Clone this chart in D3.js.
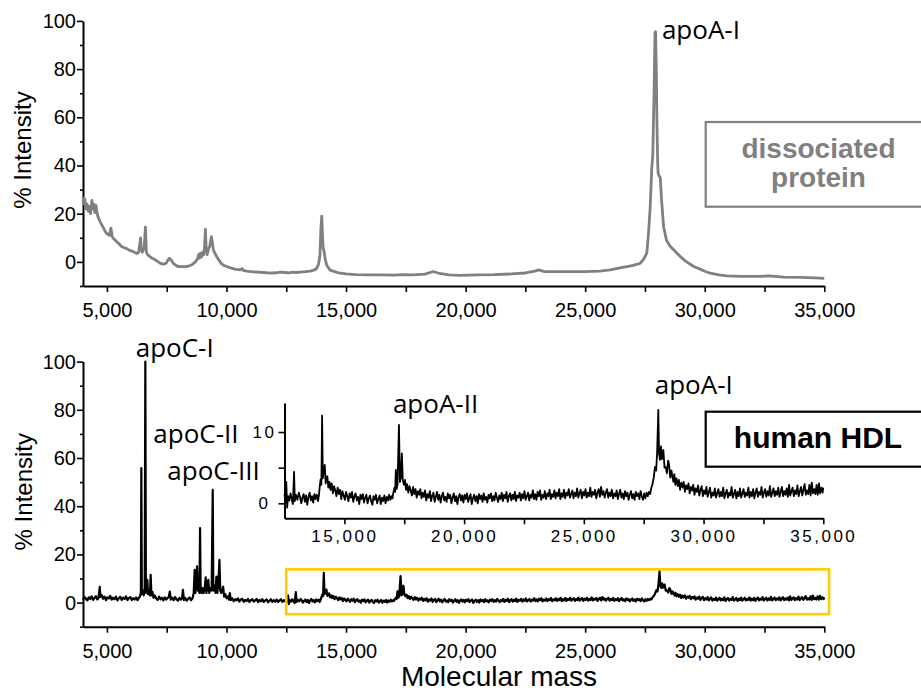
<!DOCTYPE html>
<html>
<head>
<meta charset="utf-8">
<script src="https://cdn.jsdelivr.net/npm/d3@7"></script>
<style>
  body { margin: 0; background: #fff; }
  svg { display: block; font-family: "Liberation Sans", Arial, sans-serif; }
  .peak-label { font-family: "Open Sans", sans-serif; font-size: 26px; fill: #000; }
</style>
</head>
<body>
<div id="chart"></div>
<script>
// Dissociated protein spectrum: [molecular mass, % intensity]
const dissociated = [
  [4000,27],[4040,24],[4080,26],[4120,22],[4170,24],[4220,21],[4270,23],[4320,20],[4370,25.5],[4410,22],
  [4450,24],[4500,20.5],[4540,23.5],[4580,21],[4620,19],[4700,17],[4780,15.5],[4860,14],[4940,12.5],[5020,11.5],
  [5100,11],[5170,14],[5220,10.5],[5300,9.5],[5400,8.5],[5500,7.5],[5600,6.5],[5700,6],[5830,5.5],[5950,4.8],
  [6050,4.5],[6150,4],[6250,3.5],[6330,4],[6380,8],[6410,10],[6440,5],[6480,4],[6560,6],[6610,14.4],
  [6650,4],[6700,3],[6800,2.2],[6900,1.5],[7000,1],[7100,0.3],[7220,-0.5],[7350,-1],[7480,-0.5],[7570,1],
  [7620,1.5],[7700,0.5],[7800,-0.8],[7950,-1.8],[8100,-2],[8250,-2],[8400,-1.8],[8550,-1.2],[8700,0],[8800,1.5],
  [8830,3],[8860,1.5],[8900,3.5],[8950,2],[9000,4],[9050,3],[9090,7],[9117,13.5],[9150,6],[9190,3],
  [9240,5],[9300,6.5],[9340,9],[9370,10.5],[9410,8],[9450,5],[9520,3.5],[9600,2],[9700,0.5],[9800,-0.8],
  [9900,-1.5],[10010,-1.9],[10200,-2.6],[10350,-3],[10570,-3.3],[10650,-2.8],[10700,-3.5],[10850,-3.8],[11110,-4.1],[11400,-4.3],
  [11680,-4.5],[11900,-4.6],[12100,-4.5],[12240,-4.2],[12450,-4.4],[12600,-4.6],[12790,-4.2],[12900,-4.4],[13100,-4.2],[13300,-4],
  [13500,-3.8],[13620,-3.5],[13750,-3],[13850,-1],[13910,3],[13950,14],[13985,19],[14010,12],[14040,6],[14080,4.5],
  [14130,1],[14200,-1.5],[14330,-3.4],[14460,-3.8],[14700,-4.6],[15000,-5],[15400,-5.3],[15870,-5.4],[16430,-5.4],[17000,-5.5],
  [17400,-5.3],[17800,-5.4],[18300,-5.1],[18650,-4],[18900,-4.8],[19300,-5.4],[19770,-5.6],[20500,-5.4],[21200,-5.3],[21900,-5],
  [22500,-4.6],[22900,-3.8],[23050,-3.3],[23300,-4],[23960,-4],[25000,-4],[25600,-3.8],[26050,-3.3],[26500,-2.4],[26750,-2],
  [27000,-1.4],[27300,-0.6],[27450,1.2],[27580,3.7],[27650,12],[27720,23],[27780,38],[27830,45],[27880,70],[27920,95],
  [27945,95.5],[27975,80],[28000,59],[28030,42],[28050,37],[28100,35.5],[28140,35],[28200,25],[28280,14.6],[28400,9],
  [28560,6.4],[28700,5],[28840,3.6],[29000,2],[29200,0.3],[29540,-1.9],[29800,-3],[30030,-4],[30230,-4.7],[30600,-5.4],
  [30930,-5.8],[31500,-6],[32330,-6],[32700,-5.8],[33300,-6.3],[34000,-6.4],[34600,-6.6],[35000,-6.8]
];

// Human HDL spectrum: [molecular mass, % intensity] (the inset shows the same data)
const hdl = [
  [4000,1.2],[4060,2.4],[4120,1.6],[4180,0.9],[4240,2.2],[4300,1.5],[4360,2.6],[4420,1.1],[4480,1.9],[4540,2.7],
  [4600,1.3],[4650,2.0],[4700,6.5],[4730,2.4],[4780,3.2],[4840,1.6],[4900,2.5],[4960,1.0],[5020,2.2],[5080,1.7],
  [5140,2.8],[5200,1.2],[5260,2.0],[5320,1.4],[5380,2.5],[5440,0.9],[5500,1.8],[5560,2.4],[5620,1.1],[5680,2.0],
  [5740,1.5],[5800,2.6],[5860,1.0],[5920,1.9],[5980,2.3],[6040,1.1],[6100,1.8],[6160,1.3],[6220,2.2],[6280,1.0],
  [6340,2.0],[6380,2.5],[6420,4],[6440,55.8],[6460,3.5],[6500,5],[6540,3],[6580,6],[6607,100],[6630,4],
  [6660,6],[6690,9.4],[6720,3.5],[6760,5],[6800,3],[6830,11.5],[6860,3],[6900,4.5],[6950,2],[7000,3],
  [7060,1.8],[7120,1.1],[7180,2.5],[7240,1.4],[7300,2.0],[7360,0.9],[7420,2.2],[7480,1.3],[7540,1.9],[7590,2.4],
  [7630,4.6],[7670,1.2],[7730,2.0],[7790,1.0],[7850,2.3],[7910,1.4],[7970,0.8],[8030,2.0],[8090,1.2],[8140,1.8],
  [8180,5.3],[8220,1.0],[8280,1.9],[8340,0.8],[8400,1.6],[8460,2.1],[8520,1.0],[8580,1.8],
  [8630,4],[8670,13.6],[8700,4],[8740,8],[8770,15],[8800,5],[8840,7],[8870,4],[8895,30.9],[8920,5],
  [8965,3.9],[9000,6],[9050,4],[9100,7],[9130,10.5],[9160,4],[9200,6],[9240,9.4],[9280,4],[9330,6],
  [9380,5],[9425,46.8],[9450,5],[9500,7],[9540,4],[9580,10.8],[9620,4],[9660,8],[9705,17.7],[9740,5],
  [9780,4],[9820,5],[9860,6.6],[9900,2.5],[9950,3.5],[10000,1.8],
  [10060,2.6],[10100,1.2],[10140,3.9],[10180,1.0],[10240,1.8],[10300,0.6],[10360,1.4],[10420,0.9],[10480,1.7],[10540,0.4],
  [10600,1.2],[10660,1.6],[10720,0.3],[10780,1.1],[10840,0.6],[10900,1.5],[10960,0.2],[11020,1.0],[11080,1.4],[11140,0.4],
  [11200,0.9],[11260,1.5],[11320,0.2],[11380,1.1],[11440,0.5],[11500,1.4],[11560,0.3],[11620,0.9],[11680,1.3],[11740,0.1],
  [11800,0.8],[11860,1.4],[11920,0.3],[11980,1.0],[12040,0.4],[12100,1.3],[12160,0.2],[12220,0.9],[12280,1.4],[12340,0.3],
  [12400,1.0],[12450,0.5],
  [12500,1.3],[12540,0.2],[12575,3.0],[12610,-0.6],[12650,1.0],[12700,0.4],[12750,1.4],[12800,0.6],[12850,-0.1],[12900,4.4],
  [12930,0.3],[12980,1.2],[13040,0.5],[13100,1.5],[13150,0.9],[13200,0.0],[13250,0.8],[13300,1.3],[13350,0.2],[13400,1.1],
  [13450,-0.2],[13500,0.9],[13550,1.5],[13600,0.4],[13650,1.0],[13700,0.1],[13750,1.3],[13800,0.6],[13850,1.2],[13900,0.3],
  [13940,1.2],[13970,2.3],[14010,3.4],[14040,2.6],[14070,12.3],[14100,3.5],[14140,4.5],[14180,5.4],[14220,2.8],[14260,3.6],
  [14290,3.8],[14330,2.2],[14380,3.0],[14420,1.9],[14470,2.8],[14520,1.4],[14570,2.4],[14620,1.8],[14670,1.0],[14720,2.2],
  [14770,1.3],[14820,1.9],[14870,0.6],[14920,1.7],[14970,1.1],[15020,0.5],[15070,1.6],[15120,1.0],[15170,0.3],[15220,1.4],
  [15270,0.8],[15320,1.6],[15370,0.2],[15420,1.0],[15470,1.4],[15520,0.4],[15570,0.9],[15620,-0.1],[15670,1.2],[15720,0.6],
  [15770,1.3],[15820,0.1],[15870,0.8],[15920,1.2],[15970,0.0],[16020,0.7],[16070,1.1],[16120,0.3],[16170,-0.2],[16220,1.0],
  [16270,0.5],[16320,1.2],[16370,0.0],[16420,0.6],[16470,1.1],[16520,-0.1],[16570,0.8],[16620,0.3],[16670,1.1],[16720,0.0],
  [16770,0.9],[16820,0.4],[16870,1.2],[16920,0.5],[16970,1.0],[17010,0.7],[17040,1.4],[17090,2.2],[17120,1.6],[17150,4.7],
  [17180,2.0],[17220,2.6],[17280,11.0],[17320,3.0],[17360,3.6],[17400,7.0],[17440,3.2],[17490,2.6],[17530,3.3],[17580,1.9],
  [17620,2.7],[17670,1.5],[17720,2.4],[17770,1.8],[17820,1.1],[17870,2.3],[17920,1.3],[17970,2.0],[18020,0.8],[18070,1.7],
  [18120,1.2],[18170,2.0],[18220,0.7],[18270,1.5],[18320,0.9],[18370,1.8],[18420,0.4],[18470,1.3],[18520,0.8],[18570,1.7],
  [18620,0.3],[18670,1.1],[18720,1.5],[18770,0.2],[18820,0.9],[18870,1.6],[18920,0.5],[18970,1.2],[19020,0.1],[19070,1.0],
  [19120,1.5],[19170,0.4],[19220,0.9],[19270,0.2],[19320,1.4],[19370,0.7],[19420,1.2],[19470,0.0],[19520,0.8],[19570,1.4],
  [19620,0.3],[19670,1.0],[19720,-0.1],[19770,0.9],[19820,1.3],[19870,0.4],[19920,1.1],[19970,0.1],[20020,1.2],[20070,0.6],
  [20120,1.4],[20170,0.2],[20220,0.8],[20270,1.3],[20320,-0.1],[20370,0.7],[20420,1.2],[20470,0.3],[20520,1.0],[20570,0.0],
  [20620,1.3],[20670,0.6],[20720,1.1],[20770,0.2],[20820,1.4],[20870,0.5],[20920,0.9],[20970,0.1],[21020,1.2],[21070,0.7],
  [21120,1.4],[21170,0.3],[21220,1.0],[21270,0.4],[21320,1.5],[21370,0.8],[21420,0.2],[21470,1.1],[21520,0.6],[21570,1.5],
  [21620,0.3],[21670,1.2],[21720,0.7],[21770,1.6],[21820,0.2],[21870,1.0],[21920,1.4],[21970,0.4],[22020,1.2],[22070,0.6],
  [22120,1.6],[22170,0.3],[22220,1.1],[22270,0.8],[22320,1.5],[22370,0.4],[22420,1.3],[22470,0.7],[22520,1.7],[22570,0.5],
  [22620,1.0],[22670,1.5],[22720,0.4],[22770,1.2],[22820,0.8],[22870,1.8],[22920,0.6],[22970,1.3],[23020,0.5],[23070,1.6],
  [23120,1.0],[23170,1.8],[23220,0.5],[23270,1.2],[23320,0.8],[23370,1.7],[23420,0.6],[23470,1.4],[23520,1.0],[23570,1.9],
  [23620,0.6],[23670,1.3],[23720,0.9],[23770,1.8],[23820,0.7],[23870,1.5],[23920,1.0],[23970,2.0],[24020,0.6],[24070,1.4],
  [24120,0.9],[24170,1.9],[24220,0.7],[24270,1.5],[24320,1.1],[24370,2.0],[24420,0.8],[24470,1.3],[24520,1.8],[24570,0.7],
  [24620,1.5],[24670,1.0],[24720,2.1],[24770,0.8],[24820,1.4],[24870,1.9],[24920,0.7],[24970,1.6],[25020,1.1],[25070,2.0],
  [25120,0.8],[25170,1.5],[25220,1.0],[25270,2.2],[25320,0.9],[25370,1.6],[25420,1.2],[25470,1.9],[25520,0.7],[25570,1.5],
  [25620,2.0],[25670,0.9],[25720,2.3],[25770,1.2],[25820,1.7],[25870,0.8],[25920,1.5],[25970,2.0],[26020,0.8],[26070,1.5],
  [26120,1.0],[26170,1.9],[26220,0.7],[26270,1.4],[26320,1.0],[26370,1.8],[26420,0.6],[26470,1.3],[26520,1.9],[26570,0.8],
  [26620,1.4],[26670,0.6],[26720,1.7],[26770,1.0],[26820,1.5],[26870,0.5],[26920,1.2],[26970,1.7],[27020,0.7],[27070,1.3],
  [27120,0.5],[27170,1.6],[27220,1.0],[27270,1.4],[27320,0.6],[27370,1.7],[27420,1.0],[27470,0.5],[27520,1.4],[27570,0.7],
  [27620,1.5],[27670,1.0],[27720,1.6],[27770,1.3],[27820,2.2],[27860,2.6],[27920,3.6],[27970,5.1],[28020,4.6],[28060,7.0],
  [28110,13.1],[28140,7.0],[28180,6.1],[28220,8.0],[28260,6.2],[28320,7.5],[28370,5.0],[28420,5.1],[28470,4.2],[28520,6.0],
  [28560,5.4],[28610,3.6],[28660,4.6],[28700,3.7],[28740,3.0],[28780,4.1],[28820,2.6],[28870,3.5],[28920,2.4],[28970,3.3],
  [29020,1.9],[29070,2.9],[29120,2.2],[29170,3.0],[29220,1.6],[29270,2.5],[29320,2.0],[29370,2.8],[29420,1.4],[29470,2.3],
  [29520,1.8],[29570,2.6],[29620,1.2],[29670,2.1],[29720,1.6],[29770,2.5],[29820,1.1],[29870,1.9],[29920,2.4],[29970,1.0],
  [30020,1.8],[30070,1.3],[30120,2.3],[30170,0.9],[30220,1.6],[30270,2.2],[30320,0.8],[30370,1.5],[30420,1.1],[30470,2.1],
  [30520,0.8],[30570,1.4],[30620,2.0],[30670,0.9],[30720,1.6],[30770,1.0],[30820,2.2],[30870,0.7],[30920,1.4],[30970,1.9],
  [31020,0.8],[31070,1.5],[31120,1.1],[31170,2.3],[31220,0.8],[31270,1.3],[31320,1.9],[31370,0.7],[31420,1.6],[31470,1.0],
  [31520,2.1],[31570,0.8],[31620,1.4],[31670,2.0],[31720,0.9],[31770,1.5],[31820,1.1],[31870,2.2],[31920,0.8],[31970,1.6],
  [32020,1.0],[32070,2.0],[32120,0.7],[32170,1.5],[32220,2.1],[32270,0.9],[32320,1.6],[32370,1.2],[32420,2.3],[32470,0.8],
  [32520,1.5],[32570,2.0],[32620,0.9],[32670,1.7],[32720,1.1],[32770,2.4],[32820,0.9],[32870,1.5],[32920,2.1],[32970,1.0],
  [33020,1.7],[33070,1.2],[33120,2.2],[33170,0.9],[33220,1.6],[33270,2.3],[33320,1.0],[33370,1.7],[33420,1.2],[33470,2.1],
  [33520,0.9],[33570,2.6],[33620,1.1],[33670,1.7],[33720,2.2],[33770,1.0],[33820,1.8],[33870,1.3],[33920,2.5],[33970,1.0],
  [34020,1.7],[34070,2.3],[34120,1.1],[34170,1.9],[34220,2.7],[34270,1.2],[34320,1.8],[34370,1.3],[34420,2.6],[34470,1.1],
  [34520,2.9],[34570,1.4],[34620,2.0],[34670,1.3],[34720,2.6],[34770,1.2],[34820,2.8],[34870,1.4],[34920,2.2],[34970,1.5],
  [35000,2.2]
];

// Tick values
const massTicks = [5000, 10000, 15000, 20000, 25000, 30000, 35000];
const massMinorTicks = [7500, 12500, 17500, 22500, 27500, 32500];
const intensityTicks = [0, 20, 40, 60, 80, 100];
const intensityMinorTicks = [-10, 10, 30, 50, 70, 90];
const insetMassTicks = [15000, 20000, 25000, 30000, 35000];
const insetMassMinorTicks = [17500, 22500, 27500, 32500];
const insetIntensityTicks = [0, 10];
const insetIntensityMinorTicks = [5];

// Peak labels: [text, mass, intensity] in the data units of their panel
const topLabels = [['apoA-I', 28210, 92.4]];
const bottomLabels = [['apoC-I', 6205, 102.1], ['apoC-II', 6941, 66.1], ['apoC-III', 7527, 50.9]];
const insetLabels = [['apoA-II', 17027, 12.6], ['apoA-I', 27960, 15.3]];

// Region of the HDL spectrum enlarged in the inset
const zoomRegion = { mass: [12500, 35200], intensity: [-4.8, 13.8] };

const svg = d3.select('#chart')
  .append('svg')
  .attr('width', 921)
  .attr('height', 691)
  .style('background-color', 'white');

// Scales
const x = d3.scaleLinear().domain([4000, 35000]).range([83, 824.3]);
const yTop = d3.scaleLinear().domain([-10, 100]).range([286, 20.9]);
const yBot = d3.scaleLinear().domain([-10, 100]).range([626.7, 361.6]);
const xIn = d3.scaleLinear().domain([12500, 35000]).range([284.5, 823.3]);
const yIn = d3.scaleLinear().domain([-2.1, 14.07]).range([518.3, 403]);

// Draw a bottom + left axis pair with major and minor ticks
function drawAxes(xs, ys, o) {
  const y0 = ys.range()[0];
  const x0 = xs.range()[0];

  const gx = svg.append('g').attr('transform', `translate(0,${y0})`);
  gx.call(d3.axisBottom(xs).tickValues(o.xMajor).tickSize(6).tickSizeOuter(0)
    .tickPadding(o.xPad).tickFormat(d3.format(',')));
  gx.append('g').call(d3.axisBottom(xs).tickValues(o.xMinor).tickSize(6).tickSizeOuter(0).tickFormat(''))
    .select('.domain').remove();

  const gy = svg.append('g').attr('transform', `translate(${x0},0)`);
  gy.call(d3.axisLeft(ys).tickValues(o.yMajor).tickSize(6).tickSizeOuter(0)
    .tickPadding(o.yPad).tickFormat(d3.format('d')));
  gy.append('g').call(d3.axisLeft(ys).tickValues(o.yMinor).tickSize(3).tickSizeOuter(0).tickFormat(''))
    .select('.domain').remove();

  [gx, gy].forEach((g) => {
    g.selectAll('.domain').attr('stroke', '#000').attr('stroke-width', 2);
    g.selectAll('.tick line').attr('stroke', '#000').attr('stroke-width', 1.6);
    g.selectAll('.tick text')
      .attr('fill', '#000')
      .style('font-family', '"Liberation Sans", Arial, sans-serif')
      .style('font-size', o.fontSize + 'px')
      .style('letter-spacing', o.spacing + 'px');
  });
  return { gx, gy };
}

const line = (xs, ys) => d3.line().x((d) => xs(d[0])).y((d) => ys(d[1]));

// ---- Top panel: dissociated protein
drawAxes(x, yTop, {
  xMajor: massTicks, xMinor: massMinorTicks, yMajor: intensityTicks, yMinor: intensityMinorTicks,
  xPad: 11, yPad: 1, fontSize: 20, spacing: 0,
});

svg.append('path')
  .datum(dissociated)
  .attr('fill', 'none')
  .attr('stroke', '#808080')
  .attr('stroke-width', 2.8)
  .attr('stroke-linejoin', 'round')
  .attr('d', line(x, yTop));

svg.selectAll('.top-label')
  .data(topLabels)
  .enter()
  .append('text')
  .attr('class', 'peak-label')
  .attr('x', (d) => x(d[1]))
  .attr('y', (d) => yTop(d[2]))
  .text((d) => d[0]);

svg.append('rect')
  .attr('x', 705.7).attr('y', 122).attr('width', 230).attr('height', 84.7)
  .attr('fill', 'none').attr('stroke', '#808080').attr('stroke-width', 2.2);
// two separate lines of the box label
['dissociated', 'protein'].forEach((t, i) => {
  svg.append('text')
    .attr('x', 818.5)
    .attr('y', 158.3 + i * 28.4)
    .attr('text-anchor', 'middle')
    .attr('fill', '#808080')
    .style('font-weight', 'bold')
    .style('font-size', '28px')
    .text(t);
});

svg.append('text')
  .attr('transform', 'translate(31,150) rotate(-90)')
  .attr('text-anchor', 'middle')
  .style('font-size', '24px')
  .text('% Intensity');

// ---- Bottom panel: human HDL
drawAxes(x, yBot, {
  xMajor: massTicks, xMinor: massMinorTicks, yMajor: intensityTicks, yMinor: intensityMinorTicks,
  xPad: 11, yPad: 1, fontSize: 20, spacing: 0,
});

svg.append('path')
  .datum(hdl)
  .attr('fill', 'none')
  .attr('stroke', '#000')
  .attr('stroke-width', 2.2)
  .attr('stroke-linejoin', 'round')
  .attr('d', line(x, yBot));

svg.append('rect')
  .attr('x', x(zoomRegion.mass[0]))
  .attr('y', yBot(zoomRegion.intensity[1]))
  .attr('width', x(zoomRegion.mass[1]) - x(zoomRegion.mass[0]))
  .attr('height', yBot(zoomRegion.intensity[0]) - yBot(zoomRegion.intensity[1]))
  .attr('fill', 'none')
  .attr('stroke', '#FFCC00')
  .attr('stroke-width', 2.6);

svg.selectAll('.bottom-label')
  .data(bottomLabels)
  .enter()
  .append('text')
  .attr('class', 'peak-label')
  .attr('x', (d) => x(d[1]))
  .attr('y', (d) => yBot(d[2]))
  .text((d) => d[0]);

svg.append('text')
  .attr('transform', 'translate(32,491.7) rotate(-90)')
  .attr('text-anchor', 'middle')
  .style('font-size', '24px')
  .text('% Intensity');

// ---- Inset: enlarged HDL region
const inset = drawAxes(xIn, yIn, {
  xMajor: insetMassTicks, xMinor: insetMassMinorTicks, yMajor: insetIntensityTicks, yMinor: insetIntensityMinorTicks,
  xPad: 6, yPad: 3, fontSize: 17, spacing: 2.5,
});
inset.gy.selectAll('.tick text').attr('text-anchor', 'middle').attr('x', -20);
inset.gy.selectAll('g > g .tick line').attr('x2', -6);

svg.append('path')
  .datum(hdl.filter((d) => d[0] >= 12500))
  .attr('fill', 'none')
  .attr('stroke', '#000')
  .attr('stroke-width', 1.8)
  .attr('stroke-linejoin', 'round')
  .attr('d', line(xIn, yIn));

svg.selectAll('.inset-label')
  .data(insetLabels)
  .enter()
  .append('text')
  .attr('class', 'peak-label')
  .attr('x', (d) => xIn(d[1]))
  .attr('y', (d) => yIn(d[2]))
  .text((d) => d[0]);

svg.append('rect')
  .attr('x', 705.7).attr('y', 411.7).attr('width', 230).attr('height', 55)
  .attr('fill', 'white').attr('stroke', '#000').attr('stroke-width', 2.2);
svg.append('text')
  .attr('x', 818).attr('y', 448.3).attr('text-anchor', 'middle')
  .style('font-weight', 'bold').style('font-size', '30px')
  .text('human HDL');

// Shared x-axis title
svg.append('text')
  .attr('x', 499).attr('y', 686).attr('text-anchor', 'middle')
  .style('font-size', '28px')
  .text('Molecular mass');
</script>
</body>
</html>
